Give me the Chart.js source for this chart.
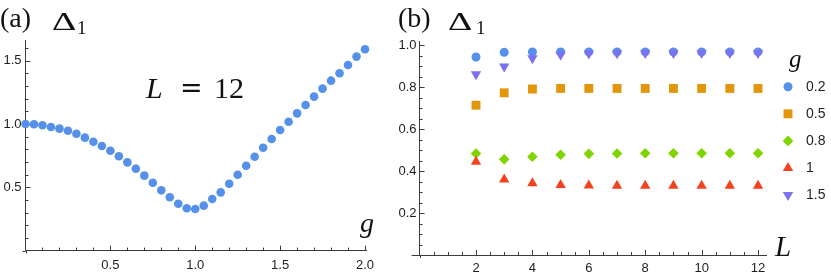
<!DOCTYPE html>
<html><head><meta charset="utf-8">
<script src="https://cdn.jsdelivr.net/npm/chart.js@4.4.1/dist/chart.umd.min.js"></script>
<style>
html,body{margin:0;padding:0;background:#fff;}
#wrap{position:relative;width:831px;height:275px;overflow:hidden;background:#fff;}
canvas{position:absolute;top:0;}
#ca{left:0;} #cb{left:390px;}
.lbl{position:absolute;font-family:"Liberation Serif","DejaVu Serif",serif;color:#111;white-space:nowrap;line-height:1;}
.it{font-style:italic;}
.dl{display:inline-block;transform:scaleX(1.45);transform-origin:0 0;}
</style></head><body>
<div id="wrap">
<canvas id="ca" width="390" height="275"></canvas>
<canvas id="cb" width="441" height="275"></canvas>
<div class="lbl" data-x="0" data-b="27.5" data-fs="28">(a)</div>
<div class="lbl dl" data-x="52" data-b="30.5" data-fs="26">Δ</div>
<div class="lbl" data-x="77" data-b="34" data-fs="19">1</div>
<div class="lbl it" data-x="146" data-b="98" data-fs="30">L</div>
<div class="lbl" data-x="180" data-b="98" data-fs="27" data-asc="0.9" style="font-family:'DejaVu Serif',serif">=</div>
<div class="lbl" data-x="214" data-b="98" data-fs="30">12</div>
<div class="lbl it" data-x="360" data-b="232" data-fs="28">g</div>
<div class="lbl" data-x="398" data-b="27.5" data-fs="28">(b)</div>
<div class="lbl dl" data-x="448" data-b="30.5" data-fs="26">Δ</div>
<div class="lbl" data-x="476" data-b="34" data-fs="19">1</div>
<div class="lbl it" data-x="775" data-b="256.5" data-fs="29">L</div>
<div class="lbl it" data-x="789" data-b="66.5" data-fs="25">g</div>
</div>
<script>
// ---------- DATA ----------
// Panel (a): L = 12, gap vs g
const gValues = [0.00,0.05,0.10,0.15,0.20,0.25,0.30,0.35,0.40,0.45,0.50,0.55,0.60,0.65,0.70,0.75,0.80,0.85,0.90,0.95,1.00,1.05,1.10,1.15,1.20,1.25,1.30,1.35,1.40,1.45,1.50,1.55,1.60,1.65,1.70,1.75,1.80,1.85,1.90,1.95,2.00];
const gapL12 = [1.000,0.998,0.990,0.976,0.963,0.947,0.923,0.892,0.860,0.826,0.789,0.745,0.697,0.647,0.592,0.536,0.476,0.421,0.370,0.334,0.329,0.355,0.407,0.460,0.528,0.599,0.670,0.741,0.812,0.881,0.952,1.018,1.084,1.150,1.216,1.279,1.342,1.400,1.466,1.532,1.590];
const xTicksA = [0.5,1.0,1.5,2.0];
const yTicksA = [0.5,1.0,1.5];

// Panel (b): gap vs L for several g
const LValues = [2,3,4,5,6,7,8,9,10,11,12];
const gLabels = ["0.2","0.5","0.8","1","1.5"];
const gap_g02 = [0.944,0.966,0.968,0.968,0.968,0.968,0.968,0.968,0.968,0.968,0.968];
const gap_g05 = [0.714,0.773,0.791,0.794,0.794,0.794,0.794,0.794,0.794,0.794,0.794];
const gap_g08 = [0.484,0.456,0.468,0.478,0.482,0.484,0.485,0.485,0.485,0.485,0.485];
const gap_g1  = [0.445,0.360,0.342,0.334,0.331,0.330,0.330,0.330,0.330,0.330,0.330];
const gap_g15 = [0.862,0.898,0.938,0.954,0.960,0.962,0.963,0.963,0.963,0.963,0.963];
const xTicksB = [2,4,6,8,10,12];
const yTicksB = [0.2,0.4,0.6,0.8,1.0];

// ---------- text placement ----------
document.querySelectorAll('.lbl').forEach(el=>{
  const fs=+el.dataset.fs;
  const asc=el.dataset.asc? +el.dataset.asc : 0.8375;
  el.style.fontSize=fs+'px';
  el.style.left=el.dataset.x+'px';
  el.style.top=(+el.dataset.b - asc*fs)+'px';
});

const AXIS='#3c3c3c', TXT='#1e1e1e';
const tickFont={family:'"Liberation Sans", Arial, sans-serif',size:13};

// inward tick marks drawn via library scales
const tickPlugin={
  id:'tickMarks',
  beforeDatasetsDraw(chart,args,o){
    const ctx=chart.ctx, ca=chart.chartArea, xs=chart.scales.x, ys=chart.scales.y;
    ctx.save();
    ctx.strokeStyle=AXIS; ctx.lineWidth=1;
    ctx.beginPath();
    const eps=1e-9;
    for(let v=o.xMinor; v<=xs.max+eps; v+=o.xMinor){
      const px=Math.round(xs.getPixelForValue(v))+0.5;
      const major=o.xMajor.some(m=>Math.abs(m-v)<1e-6);
      const len=major?5:3;
      ctx.moveTo(px,ca.bottom); ctx.lineTo(px,ca.bottom-len);
    }
    for(let v=o.yMinor; v<=ys.max+eps; v+=o.yMinor){
      const py=Math.round(ys.getPixelForValue(v))+0.5;
      const major=o.yMajor.some(m=>Math.abs(m-v)<1e-6);
      const len=major?5:3;
      ctx.moveTo(ca.left,py); ctx.lineTo(ca.left+len,py);
    }
    const by=Math.round(ca.bottom)+0.5;
    ctx.moveTo(ca.left-o.ext,by); ctx.lineTo(ca.left,by);
    const lx=Math.round(ca.left)+0.5;
    ctx.moveTo(lx,ca.bottom); ctx.lineTo(lx,ca.bottom+3);
    ctx.stroke();
    ctx.restore();
  }
};

const legendPlugin={
  id:'gLegend',
  afterDatasetsDraw(chart,args,o){
    if(!o.show) return;
    const ctx=chart.ctx;
    chart.data.datasets.forEach((ds,i)=>{
      const y=o.top+i*o.gap, x=o.x;
      ctx.save();
      ctx.fillStyle=ds.backgroundColor;
      Chart.helpers.drawPoint(ctx,{pointStyle:ds.pointStyle,radius:ds.pointRadius,rotation:ds.pointRotation||0,borderWidth:0},x,y);
      ctx.fillStyle=TXT;
      ctx.font='14px "Liberation Sans", Arial, sans-serif';
      ctx.textBaseline='middle'; ctx.textAlign='left';
      ctx.fillText(ds.label,x+18,y+0.5);
      ctx.restore();
    });
  }
};

function axis(min,max,ticksList,fixed,isX,pad,intLabels){
  return {
    type:'linear',min:min,max:max,
    grid:{display:false,drawTicks:false},
    border:{display:true,color:AXIS,width:1},
    afterBuildTicks:(s)=>{s.ticks=ticksList.map(v=>({value:v}));},
    afterFit:(s)=>{ if(isX) s.height=fixed; else s.width=fixed; },
    ticks:{font:tickFont,color:TXT,padding:pad,maxRotation:0,autoSkip:false,
      callback:(v)=> intLabels ? String(v) : v.toFixed(1)}
  };
}

// ---------- Chart (a) ----------
new Chart(document.getElementById('ca'),{
  type:'scatter',
  data:{datasets:[{
    label:'L=12',
    data:gValues.map((g,i)=>({x:g,y:gapL12[i]})),
    backgroundColor:'#5590ea',borderWidth:0,pointRadius:4.3,pointHoverRadius:4.3,clip:false
  }]},
  options:{
    responsive:false,animation:false,devicePixelRatio:1,
    layout:{padding:{left:0,top:40.4,right:23.3,bottom:0}},
    scales:{
      x:axis(0,2.01,xTicksA,24.4,true,7,false),
      y:axis(0,1.66,yTicksA,25.5,false,4,false)
    },
    plugins:{legend:{display:false},tooltip:{enabled:false},
      tickMarks:{xMinor:0.1,yMinor:0.1,xMajor:xTicksA,yMajor:yTicksA,ext:3},
      gLegend:{show:false}}
  },
  plugins:[tickPlugin,legendPlugin]
});

// ---------- Chart (b) ----------
const seriesB=[
  {label:gLabels[0],vals:gap_g02,color:'#5590ea',style:'circle',r:4.5,rot:0,order:5},
  {label:gLabels[1],vals:gap_g05,color:'#e2960a',style:'rect',r:6.3,rot:0,order:4},
  {label:gLabels[2],vals:gap_g08,color:'#80d400',style:'rectRot',r:5.3,rot:0,order:3},
  {label:gLabels[3],vals:gap_g1, color:'#f4421e',style:'triangle',r:6,rot:0,order:2},
  {label:gLabels[4],vals:gap_g15,color:'#7b72f2',style:'triangle',r:6,rot:180,order:1}
];
new Chart(document.getElementById('cb'),{
  type:'scatter',
  data:{datasets:seriesB.map(s=>({
    label:s.label,
    data:LValues.map((L,i)=>({x:L,y:s.vals[i]})),
    backgroundColor:s.color,borderWidth:0,pointStyle:s.style,pointRadius:s.r,pointHoverRadius:s.r,
    pointRotation:s.rot,order:s.order,clip:false
  }))},
  options:{
    responsive:false,animation:false,devicePixelRatio:1,
    layout:{padding:{left:0,top:41,right:64.5,bottom:0}},
    scales:{
      x:axis(0,12.3,xTicksB,20,true,6,true),
      y:axis(0,1.02,yTicksB,29.6,false,3,false)
    },
    plugins:{legend:{display:false},tooltip:{enabled:false},
      tickMarks:{xMinor:0.5,yMinor:0.05,xMajor:xTicksB,yMajor:yTicksB,ext:8},
      gLegend:{show:true,x:398,top:86.7,gap:27.1}}
  },
  plugins:[tickPlugin,legendPlugin]
});
</script>
</body></html>
